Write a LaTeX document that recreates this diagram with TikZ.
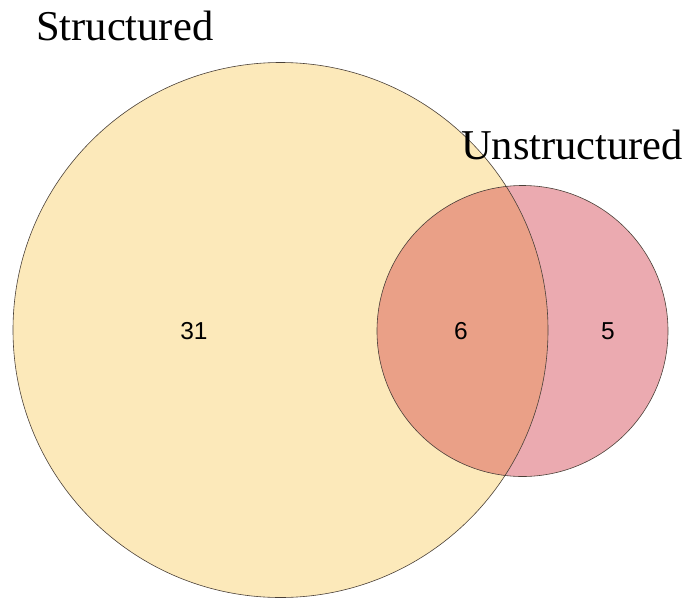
\documentclass[tikz,border=0pt]{standalone}
\usepackage{fontspec}
\setmainfont{Liberation Serif}
\newfontfamily\numfont{Liberation Sans}
\definecolor{bigfill}{HTML}{FCE9BA}
\definecolor{smallfill}{HTML}{EBAAB0}
\definecolor{overfill}{HTML}{EAA087}
\definecolor{edge}{HTML}{4A4038}
\begin{document}
\begin{tikzpicture}[x=1pt,y=-1pt,
  setedge/.style={draw=edge,line width=0.6pt},
  title/.style={font=\fontsize{42.5}{42.5}\selectfont,anchor=base west,inner sep=0pt},
  count/.style={font=\numfont\fontsize{24.5}{24.5}\selectfont,inner sep=0pt}]
\useasboundingbox (0,0) rectangle (691,598);
\coordinate (cbig) at (280.5,330);
\coordinate (csmall) at (522.5,331);
\fill[bigfill] (cbig) circle (267.5);
\fill[smallfill] (csmall) circle (145.5);
\begin{scope}
\clip (cbig) circle (267.5);
\fill[overfill] (csmall) circle (145.5);
\end{scope}
\draw[setedge] (cbig) circle (267.5);
\draw[setedge] (csmall) circle (145.5);
\node[title] (tstruct) at (36,40) {Structured};
\node[title] (tunstruct) at (461,159) {Unstructured};
\node[count] (n31) at (194,331) {31};
\node[count] (n6) at (461,331) {6};
\node[count] (n5) at (608,331) {5};
\end{tikzpicture}
\end{document}
